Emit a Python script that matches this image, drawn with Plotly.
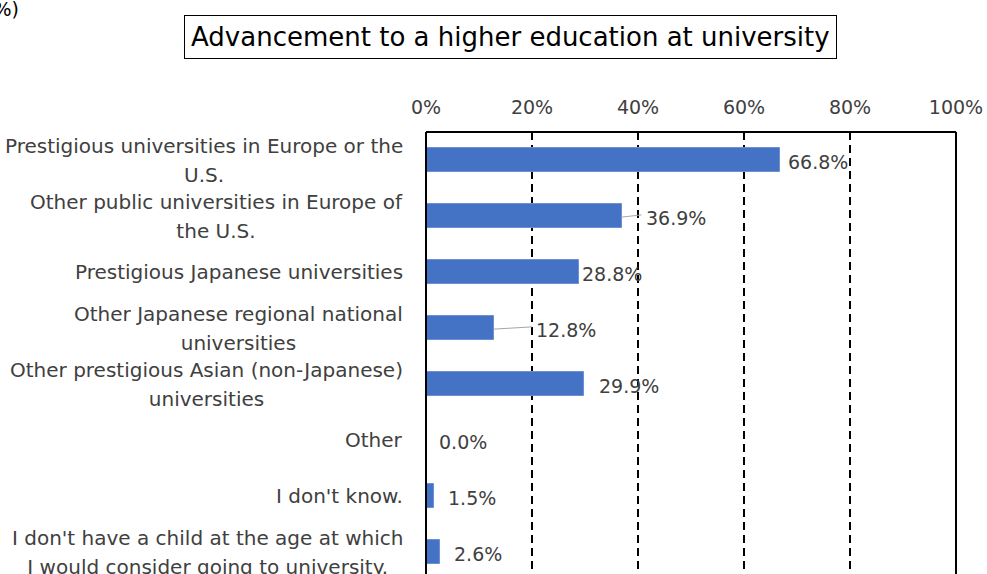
import plotly.graph_objects as go

# Survey answers (share of respondents, %)
categories = [
    "Prestigious universities in Europe or the U.S.",
    "Other public universities in Europe of the U.S.",
    "Prestigious Japanese universities",
    "Other Japanese regional national universities",
    "Other prestigious Asian (non-Japanese) universities",
    "Other",
    "I don't know.",
    "I don't have a child at the age at which I would consider going to university.",
]
label_lines = [
    ["Prestigious universities in Europe or the", "U.S."],
    ["Other public universities in Europe of", "the U.S."],
    ["Prestigious Japanese universities"],
    ["Other Japanese regional national", "universities"],
    ["Other prestigious Asian (non-Japanese)", "universities"],
    ["Other"],
    ["I don't know."],
    ["I don't have a child at the age at which", "I would consider going to university."],
]
values = [66.8, 36.9, 28.8, 12.8, 29.9, 0.0, 1.5, 2.6]
tick_vals = [0, 20, 40, 60, 80, 100]

# Pixel gap between bar end and its value label; leader line drawn when gap is wide
label_gap_px = [6, 22, 1, 40, 13, 11, 12, 12]
leader = [False, True, False, True, False, False, False, False]

W, H = 987, 574
ML, MR, MT, MB = 426, 31, 132, 0
plot_w = W - ML - MR
plot_h = H - MT - MB
px_per_unit = plot_w / 100.0

FONT = "DejaVu Sans"
TXT = "#404040"
LABEL_SIZE = 19
CAT_SIZE = 20

fig = go.Figure()
fig.add_trace(go.Bar(
    x=values, y=categories, orientation="h",
    marker=dict(color="#4472C4", line=dict(color="#6F8FD3", width=1)),
    width=0.44, hoverinfo="skip",
))

annotations = []
shapes = []

# Category labels: centered lines, block right-aligned against the axis
for cat, lines in zip(categories, label_lines):
    txt = "<br>".join(f"<span style='font-size:{CAT_SIZE}px'>{ln}</span>" for ln in lines)
    annotations.append(dict(
        xref="paper", yref="y", x=0, y=cat, xanchor="right", yanchor="middle",
        xshift=-21, text=txt, showarrow=False, align="center",
        font=dict(family=FONT, size=22, color=TXT),
    ))

# Value labels with optional leader lines
for i, (cat, v) in enumerate(zip(categories, values)):
    gap = label_gap_px[i]
    annotations.append(dict(
        xref="x", yref="y", x=v, y=cat, xanchor="left", yanchor="middle",
        xshift=gap, yshift=-2, text=f"{v:.1f}%", showarrow=False,
        font=dict(family=FONT, size=LABEL_SIZE, color=TXT),
    ))
    if leader[i]:
        shapes.append(dict(
            type="line", xref="x", yref="y",
            x0=v, x1=v + (gap - 2) / px_per_unit, y0=i + 0.02, y1=i - 0.02,
            line=dict(color="#A6A6A6", width=1), layer="above",
        ))

# Frame: left, top and right edges
for x0, y0, x1, y1 in [(0, 0, 0, 1), (0, 1, 1, 1), (1, 0, 1, 1)]:
    shapes.append(dict(type="line", xref="paper", yref="paper",
                       x0=x0, y0=y0, x1=x1, y1=y1,
                       line=dict(color="black", width=2), layer="above"))

# Boxed title
annotations.append(dict(
    xref="paper", yref="paper", x=(510 - ML) / plot_w, y=1 + (MT - 37) / plot_h,
    xanchor="center", yanchor="middle", showarrow=False,
    text="Advancement to a higher education at university",
    font=dict(family=FONT, size=26, color="black"),
    bordercolor="black", borderwidth=1, borderpad=6, bgcolor="white",
))

# Unit note at the top-left corner
annotations.append(dict(
    xref="paper", yref="paper", x=(21 - ML) / plot_w, y=1 + (MT - 9) / plot_h,
    xanchor="right", yanchor="middle", showarrow=False, text="(%)",
    font=dict(family=FONT, size=19, color="black"),
))

n = len(categories)
band_px = 56
fig.update_layout(
    width=W, height=H,
    margin=dict(l=ML, r=MR, t=MT, b=MB, pad=0),
    paper_bgcolor="white", plot_bgcolor="white",
    showlegend=False,
    bargap=0,
    xaxis=dict(
        side="top", range=[0, 100], tickvals=tick_vals,
        ticktext=[f"{t}%" for t in tick_vals],
        showgrid=True, gridcolor="black", gridwidth=2, griddash="8px,5px",
        zeroline=False, showline=False, ticks="",
        ticklabelstandoff=13,
        tickfont=dict(family=FONT, size=LABEL_SIZE, color=TXT),
        fixedrange=True,
    ),
    yaxis=dict(
        type="category", categoryorder="array", categoryarray=categories,
        range=[n - 0.5 - (n * band_px - plot_h) / band_px, -0.5],
        showticklabels=False, showgrid=False, zeroline=False, showline=False,
        ticks="", fixedrange=True,
    ),
    annotations=annotations,
    shapes=shapes,
)

fig.write_html("out.html")
